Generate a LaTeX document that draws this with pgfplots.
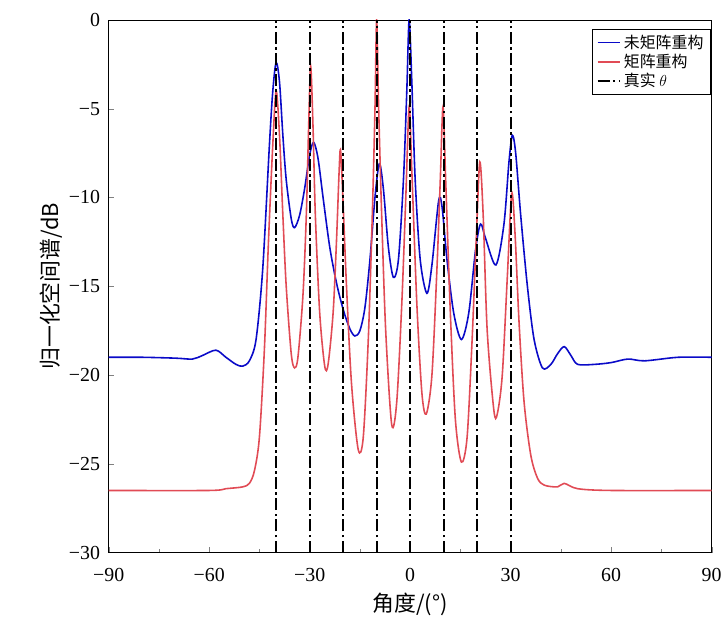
\documentclass[border=0pt]{standalone}
\usepackage{pgfplots}
\pgfplotsset{compat=1.18}
\usepackage{fontspec}
\setmainfont{Liberation Serif}
\newfontfamily\cjk{Noto Sans CJK SC}
\definecolor{cb}{RGB}{10,10,200}
\definecolor{cr}{RGB}{225,75,85}
\begin{document}
\begin{tikzpicture}
\begin{axis}[name=ax,
 scale only axis, width=455pt, height=402pt,
 xmin=-90, xmax=90, ymin=-30, ymax=0,
 xtick={-90,-60,...,90}, ytick={-30,-25,...,0},
 xticklabels={−90,−60,−30,0,30,60,90},
 yticklabels={−30,−25,−20,−15,−10,−5,0},
 minor x tick num=1, minor y tick num=0,
 tick pos=left, tick align=inside,
 ticklabel style={font=\fontsize{15}{15}\selectfont},
 xticklabel style={yshift=-8pt},
 yticklabel style={xshift=-3pt},
 xlabel={\cjk 角度/(°)}, ylabel={\cjk 归一化空间谱/dB},
 label style={font=\fontsize{16.5}{16.5}\selectfont},
 xlabel style={yshift=-2pt},
 ylabel style={yshift=-2pt},
 legend style={at={(1,1)},anchor=north east,xshift=-1pt,yshift=-7pt,font=\cjk\fontsize{12}{13}\selectfont,draw=black,row sep=-1pt},
 legend cell align=left,
 dd/.style={black, line width=1.6pt, dash pattern=on 9pt off 2.5pt on 2pt off 2.5pt},
]
\addplot[cb, line width=1.2pt, smooth] coordinates {
(-90,-19)(-80,-19)(-70,-19.05)(-65,-19.1)(-62,-18.9)(-58,-18.6)(-55,-19.0)(-52,-19.4)(-50,-19.5)(-48,-19.2)(-46,-18)(-44,-14)(-42,-7)(-41,-4)(-40,-2.4)(-39,-3.5)(-38,-6.5)(-37,-9)(-35.5,-11.2)(-34.5,-11.7)(-33,-11)(-31.5,-9.5)(-30,-7.6)(-28.8,-6.9)(-27.5,-7.8)(-26,-10)(-24,-12.8)(-22,-14.8)(-20,-16.3)(-18,-17.4)(-16.5,-17.8)(-15,-17.5)(-13.5,-16.2)(-12,-13.5)(-10.5,-10)(-9.2,-8.1)(-8,-9.5)(-6.5,-12.8)(-5,-14.5)(-3.5,-13.5)(-2,-9)(-1,-4)(-0.3,0)(0.5,-3.5)(1.5,-9)(3,-13.5)(5,-15.4)(6.5,-13.8)(8.5,-10.2)(9.5,-10.5)(11,-13.5)(13,-16.5)(15.3,-18)(17.5,-16.5)(19.5,-13)(21,-11.5)(22.5,-12.3)(25.6,-13.8)(28,-11.5)(29.5,-8)(30.5,-6.5)(31.5,-7.5)(33,-11)(35,-15)(37,-18)(39.5,-19.6)(42,-19.4)(44,-18.8)(46,-18.4)(48,-18.9)(50,-19.4)(55,-19.4)(60,-19.3)(65,-19.1)(70,-19.2)(80,-19)(90,-19)};
\addlegendentry{未矩阵重构}
\addplot[cr, line width=1.2pt, smooth] coordinates {
(-90,-26.5)(-60,-26.5)(-55,-26.4)(-50,-26.3)(-48,-26.1)(-46.5,-25.4)(-45,-23.5)(-43.5,-18.5)(-42.3,-12.5)(-41,-7)(-40,-4)(-39,-6.5)(-38,-11)(-37,-15)(-35.5,-18.8)(-34.5,-19.6)(-33.5,-19)(-32,-15.5)(-31,-11)(-30.3,-6)(-29.7,-2.6)(-29,-6)(-28.3,-11)(-27,-16.5)(-25.5,-19.5)(-24.5,-19.4)(-23,-16.5)(-22,-12.5)(-21.2,-8.5)(-20.8,-7.3)(-20.2,-9.5)(-19,-15)(-17.5,-20.5)(-15.5,-24.2)(-14,-23.5)(-12.5,-18)(-11.3,-11)(-10.5,-5)(-10,0)(-9.4,-5)(-8.5,-11)(-7.3,-17.5)(-5.5,-22.8)(-4,-21.5)(-2.5,-16)(-1.3,-10)(-0.3,-4.9)(0.5,-8.5)(2,-16)(3.5,-21)(4.8,-22.2)(6.5,-20)(8,-14)(9,-9)(9.8,-4.9)(10.6,-9)(12,-16.5)(13.5,-22.5)(15.3,-24.9)(17,-23.5)(18.5,-18)(19.8,-12)(20.8,-8)(21.8,-11)(23,-17.5)(25,-22)(26,-22.2)(27.5,-20)(29,-14.5)(30.3,-9.8)(31.3,-12)(32.5,-17)(34,-21.5)(36,-24.5)(38,-25.8)(40,-26.2)(44,-26.3)(46,-26.1)(50,-26.4)(60,-26.5)(90,-26.5)};
\addlegendentry{矩阵重构}
\addplot[dd, forget plot] coordinates {(-40,-30)(-40,0)};
\addplot[dd, forget plot] coordinates {(-30,-30)(-30,0)};
\addplot[dd, forget plot] coordinates {(-20,-30)(-20,0)};
\addplot[dd, forget plot] coordinates {(-10,-30)(-10,0)};
\addplot[dd, forget plot] coordinates {(0,-30)(0,0)};
\addplot[dd, forget plot] coordinates {(10,-30)(10,0)};
\addplot[dd, forget plot] coordinates {(20,-30)(20,0)};
\addplot[dd] coordinates {(30,-30)(30,0)};
\addlegendentry{真实 $\theta$}
\end{axis}
\path (ax.south west) ++(-82pt,-57pt) coordinate (bl);
\path (ax.north east) ++(7pt,15pt) coordinate (tr);
\path (bl) rectangle (tr);
\end{tikzpicture}
\end{document}
